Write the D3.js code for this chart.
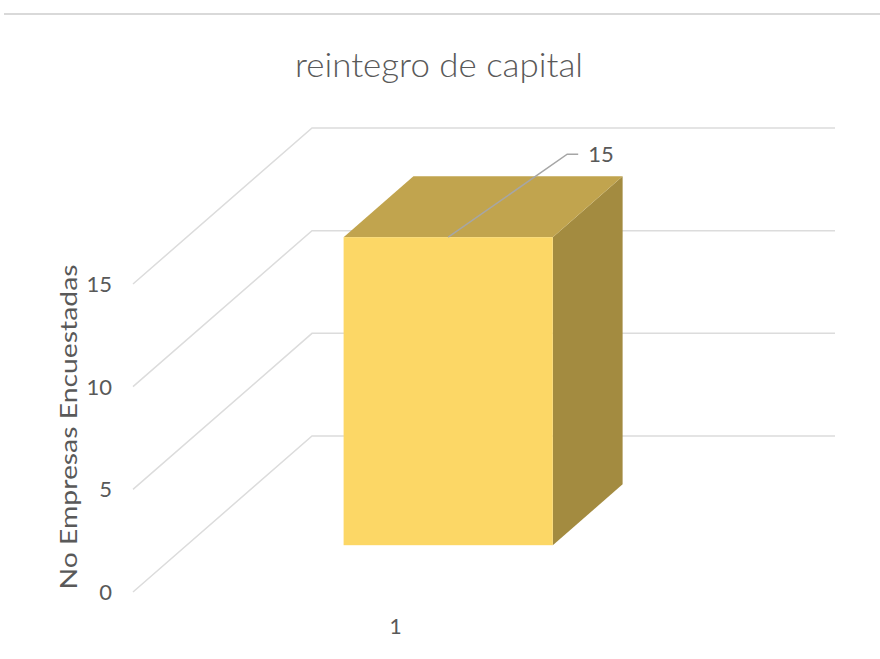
<!DOCTYPE html>
<html>
<head>
<meta charset="utf-8">
<script src="https://cdn.jsdelivr.net/npm/d3@7"></script>
<style>
  body { margin: 0; background: #fff; }
  text { font-family: Lato, "Open Sans", sans-serif; fill: #595959; }
</style>
</head>
<body>
<svg id="chart"></svg>
<script>
const title = "reintegro de capital";
const yTitle = "No Empresas Encuestadas";
const categories = ["1"];
const values = [15];
const yTicks = [0, 5, 10, 15];

const width = 880, height = 659;
// 3D projection: depth t in [0,1] shifts a point back and up
const depthX = 179, depthY = 156;
const barDepth = [0.30, 0.69];
const proj = (px, py, t) => [px + t * depthX, py - t * depthY];

const svg = d3.select("#chart").attr("width", width).attr("height", height);

const x = d3.scaleBand().domain(categories).range([133, 656])
  .paddingInner(0).paddingOuter(0.75);
const y = d3.scaleLinear().domain([0, 15]).range([592, 284]);

// chart border line at the top
svg.append("line")
  .attr("x1", 4).attr("x2", width).attr("y1", 14).attr("y2", 14)
  .attr("stroke", "#d9d9d9").attr("stroke-width", 2);

svg.append("text")
  .attr("x", 439).attr("y", 77)
  .attr("text-anchor", "middle")
  .attr("font-size", 34)
  .attr("font-weight", 300)
  .attr("textLength", 288).attr("lengthAdjust", "spacingAndGlyphs")
  .text(title);

// side wall + back wall gridlines
const grid = svg.append("g");
yTicks.forEach(v => {
  const [x0, y0] = [x.range()[0], y(v)];
  const p1 = proj(x0, y0, 1);
  const p2 = proj(x.range()[1], y0, 1);
  grid.append("path")
    .attr("d", d3.line()([[x0, y0], p1, p2]))
    .attr("fill", "none").attr("stroke", "#dcdcdc").attr("stroke-width", 1.5);
});

// y tick labels
svg.append("g").selectAll("text").data(yTicks).join("text")
  .attr("x", 112).attr("y", d => y(d))
  .attr("dy", "0.36em")
  .attr("text-anchor", "end")
  .attr("font-size", 22)
  .text(d => d);

svg.append("text")
  .attr("transform", "translate(77, 427) rotate(-90)")
  .attr("text-anchor", "middle")
  .attr("font-size", 24)
  .attr("textLength", 325).attr("lengthAdjust", "spacingAndGlyphs")
  .text(yTitle);

// bars
const bars = svg.append("g");
categories.forEach((c, i) => {
  const xl = x(c), xr = x(c) + x.bandwidth();
  const yb = y(0), yt = y(values[i]);
  const [t0, t1] = barDepth;
  const fl = proj(xl, yt, t0), fr = proj(xr, yt, t0);
  const bl = proj(xl, yt, t1), br = proj(xr, yt, t1);
  const frb = proj(xr, yb, t0), brb = proj(xr, yb, t1);
  const flb = proj(xl, yb, t0);

  bars.append("path")
    .attr("d", d3.line()([fr, br, brb, frb]) + "Z")
    .attr("fill", "#a38b40");
  bars.append("path")
    .attr("d", d3.line()([fl, bl, br, fr]) + "Z")
    .attr("fill", "#c1a44e");
  bars.append("rect")
    .attr("x", fl[0]).attr("y", fl[1])
    .attr("width", fr[0] - fl[0]).attr("height", flb[1] - fl[1])
    .attr("fill", "#fcd766");

  // data label with leader line
  const a = proj((xl + xr) / 2, yt, t0);
  const k = [a[0] + 119, a[1] - 83];
  bars.append("path")
    .attr("d", d3.line()([a, k, [k[0] + 11, k[1]]]))
    .attr("fill", "none").attr("stroke", "#a6a6a6").attr("stroke-width", 1.5);
  bars.append("text")
    .attr("x", k[0] + 21).attr("y", k[1]).attr("dy", "0.36em")
    .attr("font-size", 22)
    .text(values[i]);

  svg.append("text")
    .attr("x", (xl + xr) / 2 + 1).attr("y", 634)
    .attr("text-anchor", "middle")
    .attr("font-size", 21)
    .text(c);
});
</script>
</body>
</html>
